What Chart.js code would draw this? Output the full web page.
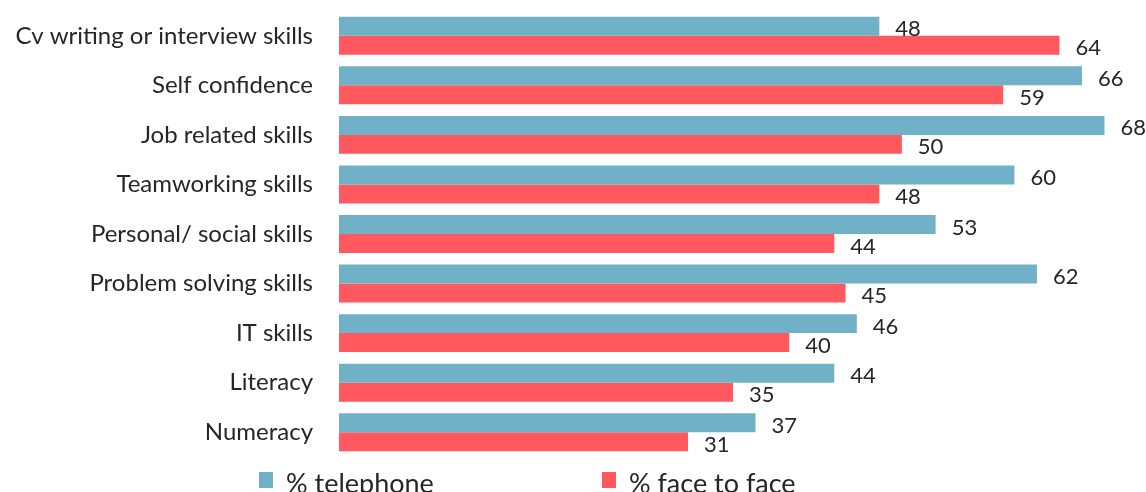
<!DOCTYPE html>
<html>
<head>
<meta charset="utf-8">
<script src="https://cdn.jsdelivr.net/npm/chart.js@4"></script>
<style>
  html, body { margin: 0; padding: 0; background: #fff; }
  #wrap { position: relative; width: 1146px; height: 492px; overflow: hidden; }
  #legend {
    position: absolute; top: 466px; left: 259px;
    display: flex; font-family: Lato, sans-serif; font-size: 27px; color: #262626;
  }
  .item { display: flex; align-items: center; }
  .item + .item { margin-left: 168px; }
  .swatch { width: 14px; height: 16px; margin-right: 13px; margin-top: -6px; }
</style>
</head>
<body>
<div id="wrap">
  <canvas id="skillsChart" width="1146" height="492"></canvas>
  <div id="legend"></div>
</div>
<script>
// Skills improved, by delivery mode (%)
const categories = [
  'Cv writing or interview skills',
  'Self confidence',
  'Job related skills',
  'Teamworking skills',
  'Personal/ social skills',
  'Problem solving skills',
  'IT skills',
  'Literacy',
  'Numeracy'
];
const telephone = [48, 66, 68, 60, 53, 62, 46, 44, 37];
const faceToFace = [64, 59, 50, 48, 44, 45, 40, 35, 31];
const seriesNames = ['% telephone', '% face to face'];
const seriesColors = ['#71B1C8', '#FF585E'];

// Value labels just past the end of each bar
const valueLabels = {
  id: 'valueLabels',
  afterDatasetsDraw(chart) {
    const ctx = chart.ctx;
    ctx.save();
    ctx.font = '22px Lato, sans-serif';
    ctx.fillStyle = '#262626';
    ctx.textAlign = 'left';
    ctx.textBaseline = 'middle';
    chart.data.datasets.forEach((ds, i) => {
      chart.getDatasetMeta(i).data.forEach((bar, j) => {
        ctx.fillText(ds.data[j], bar.x + 16, bar.y + 3);
      });
    });
    ctx.restore();
  }
};

const chart = new Chart(document.getElementById('skillsChart'), {
  type: 'bar',
  data: {
    labels: categories,
    datasets: [
      { label: seriesNames[0], data: telephone, backgroundColor: seriesColors[0] },
      { label: seriesNames[1], data: faceToFace, backgroundColor: seriesColors[1] }
    ]
  },
  options: {
    indexAxis: 'y',
    responsive: false,
    animation: false,
    layout: { padding: { top: 11, right: 19, bottom: 35, left: 0 } },
    datasets: { bar: { categoryPercentage: 0.766, barPercentage: 1 } },
    scales: {
      x: { display: false, min: 0, max: 70 },
      y: {
        grid: { display: false, drawTicks: false },
        border: { display: false },
        ticks: {
          padding: 26,
          color: '#262626',
          font: { family: 'Lato, sans-serif', size: 24 }
        },
        afterFit(scale) {
          scale.width = 339;
          scale.paddingTop = 0;
          scale.paddingBottom = 0;
        }
      }
    },
    plugins: {
      legend: { display: false },
      tooltip: { enabled: false }
    }
  },
  plugins: [valueLabels]
});

// Legend below the plot
const legend = document.getElementById('legend');
seriesNames.forEach((name, i) => {
  const item = document.createElement('div');
  item.className = 'item';
  item.innerHTML = '<span class="swatch" style="background:' + seriesColors[i] + '"></span>' + name;
  legend.appendChild(item);
});
</script>
</body>
</html>
